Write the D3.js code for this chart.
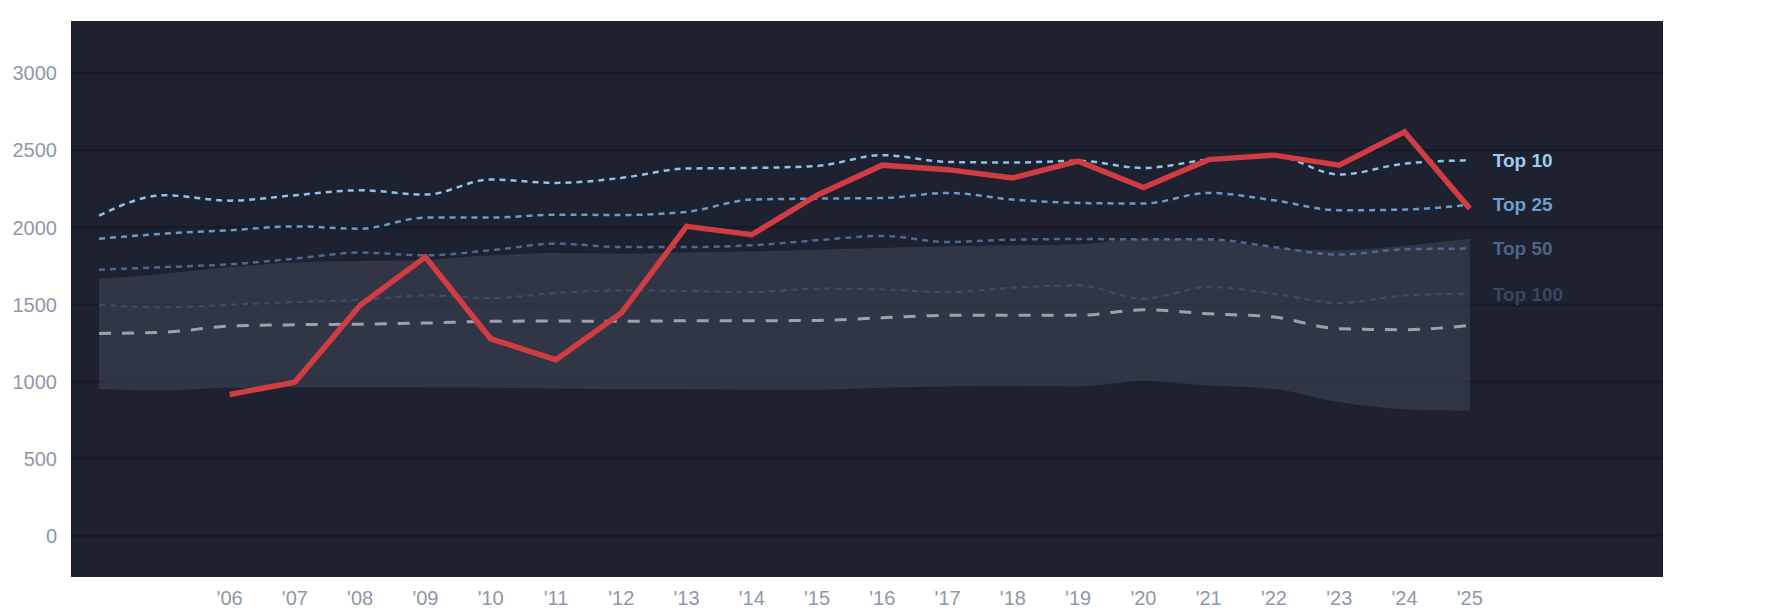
<!DOCTYPE html>
<html lang="en">
<head>
<meta charset="utf-8">
<title>Rank bands</title>
<style>
body{
  margin: 0;
  background: #fff;
}
.tick-label{
  font: 20px "Liberation Sans", Arial, sans-serif;
  fill: #8f98a9;
}
.series-label{
  font: bold 19px "Liberation Sans", Arial, sans-serif;
}
</style>
</head>
<body>
<div id="chart"></div>
<script src="https://d3js.org/d3.v7.min.js"></script>
<script>
  // years for the reference lines, the red series starts in 2006
  const years = d3.range(2004, 2026);
  const redYears = d3.range(2006, 2026);

  const top10 = [2076, 2208, 2173, 2208, 2240, 2212, 2310, 2288, 2320, 2381, 2385,
                 2398, 2468, 2424, 2420, 2431, 2385, 2439, 2463, 2342, 2413, 2435];
  const top25 = [1926, 1959, 1981, 2006, 1991, 2063, 2063, 2082, 2080, 2100, 2180,
                 2186, 2190, 2223, 2180, 2158, 2154, 2223, 2175, 2110, 2115, 2147];
  const top50 = [1725, 1742, 1760, 1797, 1836, 1818, 1851, 1894, 1872, 1872, 1883,
                 1916, 1944, 1905, 1920, 1924, 1922, 1922, 1872, 1823, 1857, 1862];
  const top100 = [1498, 1481, 1498, 1515, 1530, 1558, 1541, 1574, 1591, 1587, 1580,
                  1602, 1597, 1580, 1608, 1623, 1537, 1613, 1569, 1509, 1558, 1569];
  const median = [1312, 1320, 1359, 1368, 1372, 1379, 1390, 1392, 1390, 1394, 1394,
                  1396, 1413, 1429, 1429, 1429, 1465, 1439, 1418, 1342, 1336, 1364];
  const bandHigh = [1667, 1699, 1742, 1771, 1781, 1790, 1818, 1833, 1829, 1836, 1844,
                    1855, 1866, 1877, 1883, 1890, 1926, 1920, 1868, 1850, 1880, 1925];
  const bandLow = [952, 942, 959, 963, 963, 961, 959, 954, 950, 950, 946,
                   946, 959, 968, 970, 968, 1002, 974, 952, 865, 820, 810];
  const red = [916, 996, 1494, 1807, 1277, 1141, 1444, 2006, 1952, 2208,
               2403, 2374, 2320, 2429, 2258, 2439, 2468, 2403, 2619, 2121];

  const yTicks = [0, 500, 1000, 1500, 2000, 2500, 3000];
  const xTicks = d3.range(2006, 2026);

  const width = 1785;
  const height = 614;
  const margin = { top: 21, right: 122, bottom: 37, left: 71 };

  const svg = d3.select("#chart")
    .append("svg")
    .attr("width", width)
    .attr("height", height);

  const x = d3.scaleLinear()
    .domain([2003.57, 2027.96])
    .range([margin.left, width - margin.right]);

  const y = d3.scaleLinear()
    .domain([-268, 3338])
    .range([height - margin.bottom, margin.top]);

  // plot background
  svg.append("rect")
    .attr("x", margin.left)
    .attr("y", margin.top)
    .attr("width", width - margin.left - margin.right)
    .attr("height", height - margin.top - margin.bottom)
    .attr("fill", "#1e2130");

  // horizontal grid
  svg.append("g")
    .selectAll("line")
    .data(yTicks)
    .join("line")
    .attr("x1", margin.left)
    .attr("x2", width - margin.right)
    .attr("y1", d => y(d))
    .attr("y2", d => y(d))
    .attr("stroke", "#171a25")
    .attr("stroke-width", 2);

  // y labels
  svg.append("g")
    .selectAll("text")
    .data(yTicks)
    .join("text")
    .attr("class", "tick-label")
    .attr("x", 57)
    .attr("y", d => y(d))
    .attr("dy", "0.36em")
    .attr("text-anchor", "end")
    .text(d => d);

  // x labels
  svg.append("g")
    .selectAll("text")
    .data(xTicks)
    .join("text")
    .attr("class", "tick-label")
    .attr("x", d => x(d))
    .attr("y", 605)
    .attr("text-anchor", "middle")
    .text(d => "'" + String(d).slice(2));

  // shaded band
  const area = d3.area()
    .x((d, i) => x(years[i]))
    .y0((d, i) => y(bandLow[i]))
    .y1(d => y(d))
    .curve(d3.curveMonotoneX);

  svg.append("path")
    .datum(bandHigh)
    .attr("d", area)
    .attr("fill", "#4a5064")
    .attr("fill-opacity", 0.45);

  const line = d3.line()
    .x((d, i) => x(years[i]))
    .y(d => y(d))
    .curve(d3.curveMonotoneX);

  const series = [
    { name: "Top 100", values: top100, color: "#3e4b66", label: "#394660", width: 2.2, dash: "6,5" },
    { name: "", values: median, color: "#9ca2ad", label: null, width: 3, dash: "12,11" },
    { name: "Top 50", values: top50, color: "#4f6890", label: "#4d6488", width: 2.5, dash: "6,5" },
    { name: "Top 25", values: top25, color: "#6a9cc9", label: "#6d9fcc", width: 2.5, dash: "6,5" },
    { name: "Top 10", values: top10, color: "#8fc3e8", label: "#9dcbf0", width: 2.5, dash: "6,5" }
  ];

  svg.append("g")
    .selectAll("path")
    .data(series)
    .join("path")
    .attr("d", d => line(d.values))
    .attr("fill", "none")
    .attr("stroke", d => d.color)
    .attr("stroke-width", d => d.width)
    .attr("stroke-dasharray", d => d.dash);

  // red series on top
  svg.append("path")
    .datum(red)
    .attr("d", d3.line()
      .x((d, i) => x(redYears[i]))
      .y(d => y(d)))
    .attr("fill", "none")
    .attr("stroke", "#d13c43")
    .attr("stroke-width", 5.5)
    .attr("stroke-linejoin", "miter");

  // end labels
  svg.append("g")
    .selectAll("text")
    .data(series.filter(d => d.label))
    .join("text")
    .attr("class", "series-label")
    .attr("x", x(2025) + 23)
    .attr("y", d => y(d.values[d.values.length - 1]))
    .attr("dy", "0.36em")
    .attr("fill", d => d.label)
    .text(d => d.name);
</script>
</body>
</html>
